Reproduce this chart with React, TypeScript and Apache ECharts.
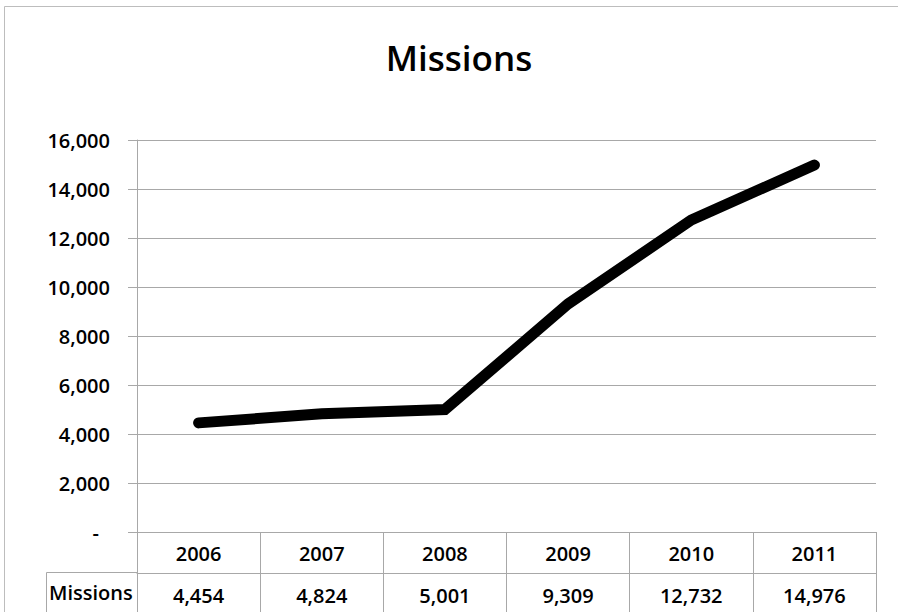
import React, { useEffect, useRef } from "react";
import * as echarts from "echarts";

const TITLE = "Missions";
const SERIES_NAME = "Missions";
const YEARS = ["2006", "2007", "2008", "2009", "2010", "2011"];
const MISSIONS = [4454, 4824, 5001, 9309, 12732, 14976];
const Y_MIN = 0;
const Y_MAX = 16000;
const Y_STEP = 2000;

const FONT = "'Open Sans', 'Liberation Sans', sans-serif";
const WEIGHT = 600;
const GRID_COLOR = "#a8a8a8";
const FRAME_COLOR = "#bdbdbd";

const fmt = (v: number) => v.toLocaleString("en-US");

export default function App() {
  const ref = useRef<HTMLDivElement>(null);
  useEffect(() => {
    if (!ref.current) return;
    const chart = echarts.init(ref.current, undefined, { renderer: "svg" });
    chart.setOption({
      animation: false,
      backgroundColor: "#ffffff",
      title: {
        text: TITLE,
        left: 454,
        top: 35,
        textAlign: "center",
        textStyle: {
          fontFamily: FONT,
          fontSize: 35,
          fontWeight: WEIGHT,
          color: "#000",
        },
      },
      grid: { left: 137, right: 22, top: 140, bottom: 80, containLabel: false },
      xAxis: [
        {
          type: "category",
          data: YEARS,
          boundaryGap: true,
          position: "bottom",
          axisLine: { show: true, lineStyle: { color: GRID_COLOR, width: 1 } },
          axisTick: {
            show: true,
            interval: 0,
            length: 41,
            lineStyle: { color: GRID_COLOR, width: 1 },
          },
          axisLabel: {
            interval: 0,
            margin: 11,
            fontFamily: FONT,
            fontSize: 20,
            fontWeight: WEIGHT,
            color: "#000",
          },
          splitLine: { show: false },
        },
        {
          type: "category",
          data: MISSIONS.map(fmt),
          boundaryGap: true,
          position: "bottom",
          offset: 41,
          axisLine: { show: true, lineStyle: { color: GRID_COLOR, width: 1 } },
          axisTick: {
            show: true,
            interval: 0,
            length: 45,
            lineStyle: { color: GRID_COLOR, width: 1 },
          },
          axisLabel: {
            interval: 0,
            margin: 12,
            fontFamily: FONT,
            fontSize: 20,
            fontWeight: WEIGHT,
            color: "#000",
          },
          splitLine: { show: false },
        },
      ],
      yAxis: {
        type: "value",
        min: Y_MIN,
        max: Y_MAX,
        interval: Y_STEP,
        axisLine: { show: true, lineStyle: { color: GRID_COLOR, width: 1 } },
        axisTick: {
          show: true,
          inside: false,
          length: 9,
          lineStyle: { color: GRID_COLOR, width: 1 },
        },
        splitLine: { show: true, lineStyle: { color: GRID_COLOR, width: 1 } },
        axisLabel: {
          margin: 27,
          fontFamily: FONT,
          fontSize: 20,
          fontWeight: WEIGHT,
          color: "#000",
          formatter: (v: number) => (v === 0 ? "{d|-}" : fmt(v)),
          rich: {
            d: {
              fontFamily: FONT,
              fontSize: 20,
              fontWeight: WEIGHT,
              color: "#000",
              padding: [0, 11, 0, 0],
            },
          },
        },
      },
      series: [
        {
          name: SERIES_NAME,
          type: "line",
          data: MISSIONS,
          xAxisIndex: 0,
          symbol: "none",
          lineStyle: { color: "#000", width: 11, cap: "round", join: "miter" },
          z: 5,
        },
      ],
      graphic: [
        {
          type: "line",
          shape: { x1: 4.5, y1: 6.5, x2: 900, y2: 6.5 },
          style: { stroke: FRAME_COLOR, lineWidth: 1 },
          silent: true,
        },
        {
          type: "line",
          shape: { x1: 4.5, y1: 6.5, x2: 4.5, y2: 620 },
          style: { stroke: FRAME_COLOR, lineWidth: 1 },
          silent: true,
        },
        {
          type: "line",
          shape: { x1: 46.5, y1: 572.5, x2: 137, y2: 572.5 },
          style: { stroke: GRID_COLOR, lineWidth: 1 },
          silent: true,
        },
        {
          type: "line",
          shape: { x1: 46.5, y1: 572.5, x2: 46.5, y2: 620 },
          style: { stroke: GRID_COLOR, lineWidth: 1 },
          silent: true,
        },
        {
          type: "text",
          left: 49,
          top: 582,
          style: {
            text: SERIES_NAME,
            fontFamily: FONT,
            fontSize: 20,
            fontWeight: WEIGHT,
            fill: "#000",
          },
          silent: true,
        },
      ],
    });
    return () => chart.dispose();
  }, []);
  return (
    <div
      ref={ref}
      style={{ position: "fixed", left: 0, top: 0, width: 898, height: 612 }}
    />
  );
}
